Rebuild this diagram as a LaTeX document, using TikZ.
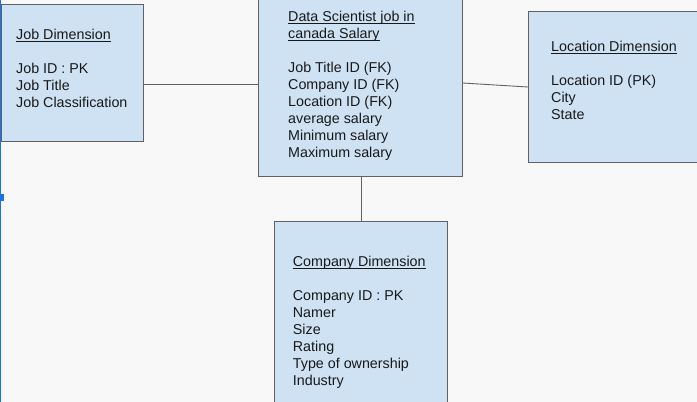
\documentclass[tikz,border=0pt]{standalone}
\usepackage{fontspec}
\setmainfont{Liberation Sans}
\newcommand\uln[1]{\setbox0\hbox{#1}\rlap{\rule[-2.6pt]{\wd0}{0.9pt}}\box0}
\definecolor{boxblue}{HTML}{CFE2F3}
\definecolor{boxline}{HTML}{5F6368}
\definecolor{paper}{HTML}{F8F8F8}
\definecolor{selblue}{HTML}{1A73E8}
\tikzset{
	table/.style={draw=boxline, fill=boxblue, line width=0.9pt, inner sep=0pt},
	fields/.style={anchor=base west, align=left, inner sep=0pt, text=black!90,
		font=\fontsize{14.3}{17}\selectfont},
	link/.style={draw=boxline, line width=0.9pt}
}

\begin{document}
\begin{tikzpicture}[x=1pt, y=-1pt]
			
			\fill [paper] (0, 0) rectangle (697, 402);
			\useasboundingbox (0, 0) rectangle (697, 402);
			
			% tables
			\node [table, minimum width=142, minimum height=137] (job) at (72, 73.2) {};
			\node [table, minimum width=204, minimum height=182] (fact) at (360.3, 85) {};
			\node [table, minimum width=182, minimum height=150.3] (location) at (619.3, 86.85) {};
			\node [table, minimum width=173.4, minimum height=190] (company) at (361, 316.7) {};
			
			% links
			\draw [link] (job.east |- 0, 84) -- (fact.west |- 0, 84);
			\draw [link] (fact.east |- 0, 83) -- (location.west |- 0, 87);
			\draw [link] (fact.south -| 361, 0) -- (company.north -| 361, 0);
			
			% fields (placed by the baseline of the last line)
			\node [fields] (jobtext) at (16, 107) {\uln{Job Dimension}\\ \\Job ID : PK\\Job Title\\Job Classification};
			\node [fields] (facttext) at (288, 157) {\uln{Data Scientist job in}\\\uln{canada Salary}\\ \\Job Title ID (FK)\\Company ID (FK)\\Location ID (FK)\\average salary\\Minimum salary\\Maximum salary};
			\node [fields] (loctext) at (551, 119) {\uln{Location Dimension}\\ \\Location ID (PK)\\City\\State};
			\node [fields] (comptext) at (292.7, 385) {\uln{Company Dimension}\\ \\Company ID : PK\\Namer\\Size\\Rating\\Type of ownership\\Industry};
			
			% selection edge
			\draw [selblue, line width=1.2pt] (0.7, 0) -- (0.7, 402);
			\fill [selblue] (0, 194) rectangle (3.5, 201);
			
			\end{tikzpicture}
\end{document}
